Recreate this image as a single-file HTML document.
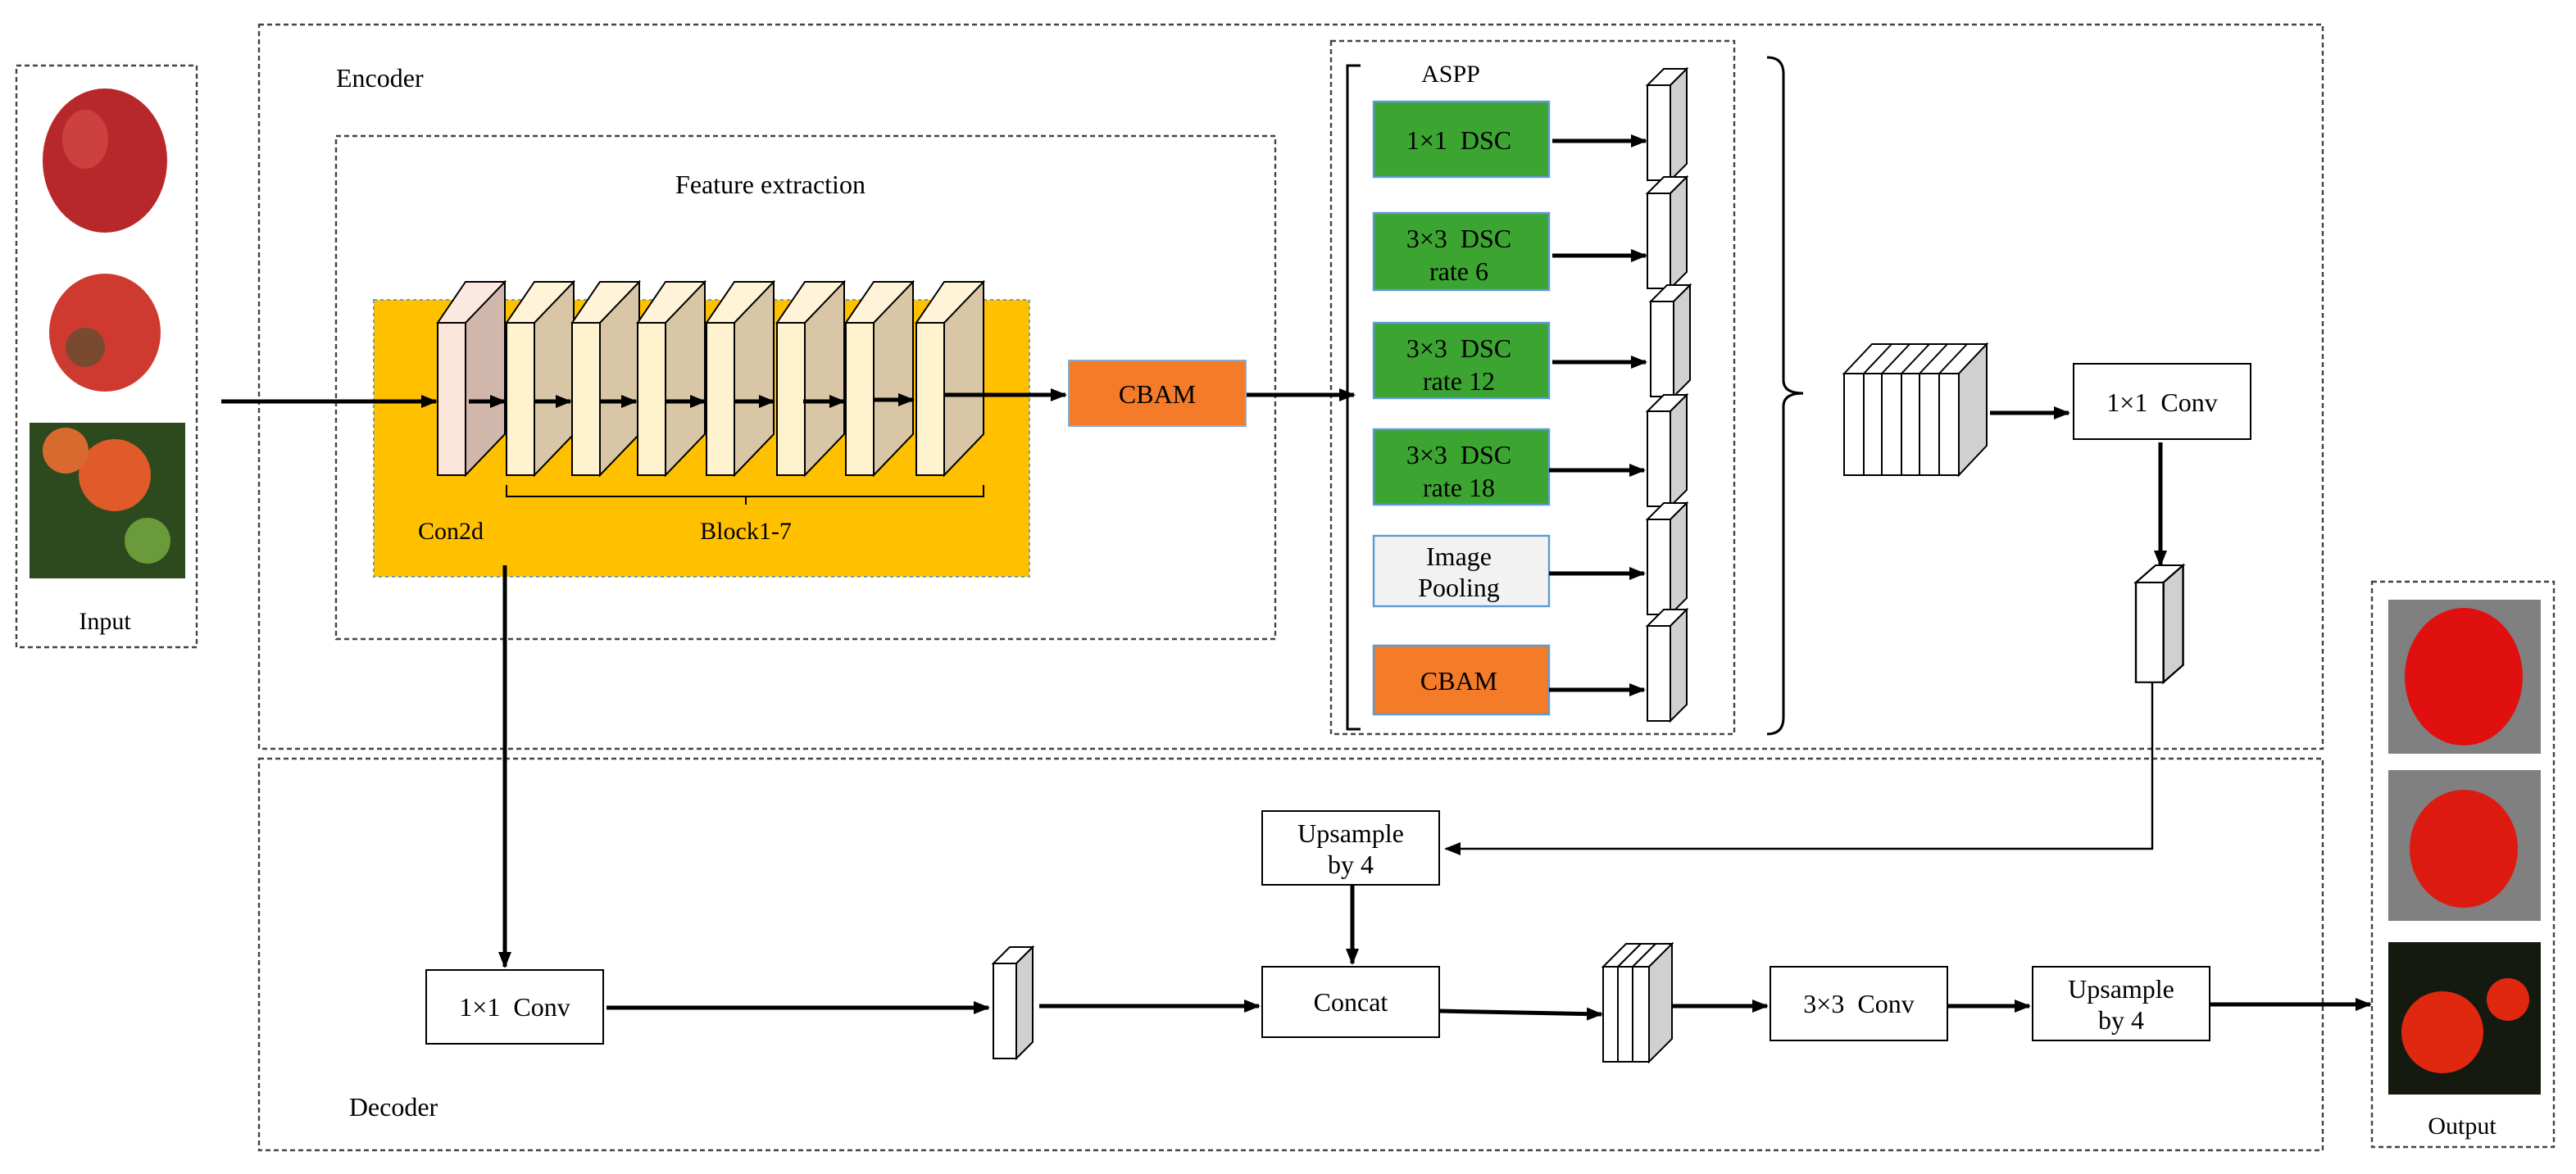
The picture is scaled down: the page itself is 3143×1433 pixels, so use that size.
<!DOCTYPE html>
<html><head><meta charset="utf-8"><style>html,body{margin:0;padding:0;background:#fff}svg{display:block}</style></head><body>
<svg width="3143" height="1433" viewBox="0 0 1571.5 716.5" xmlns="http://www.w3.org/2000/svg" font-family="Liberation Serif, serif">
<defs>
<marker id="a" markerWidth="10" markerHeight="8" refX="9" refY="4" orient="auto" markerUnits="userSpaceOnUse"><path d="M0,0 L10,4 L0,8 z" fill="#000"/></marker>
<g id="fm"><polygon points="0,10 10,0 24,0 14,10" fill="#fff" stroke="#000" stroke-width="1"/><polygon points="14,10 24,0 24,58 14,68" fill="#d0d0d0" stroke="#000" stroke-width="1"/><rect x="0" y="10" width="14" height="58" fill="#fff" stroke="#000" stroke-width="1"/></g>
</defs>
<rect width="1571.5" height="716.5" fill="#fff"/>
<g fill="none" stroke="#444" stroke-width="1.2" stroke-dasharray="3,2">
<rect x="10" y="40" width="110" height="355"/>
<rect x="158" y="15" width="1259" height="442"/>
<rect x="205" y="83" width="573" height="307"/>
<rect x="812" y="25" width="246" height="423"/>
<rect x="158" y="463" width="1259" height="239"/>
<rect x="1447" y="355" width="111" height="345"/>
</g>
<rect x="22" y="50" width="85" height="95" fill="#fff"/>
<ellipse cx="64" cy="98" rx="38" ry="44" fill="#b8282a"/><ellipse cx="52" cy="85" rx="14" ry="18" fill="#d85050" opacity="0.6"/>
<ellipse cx="64" cy="203" rx="34" ry="36" fill="#cf3a30"/><ellipse cx="52" cy="212" rx="12" ry="12" fill="#7a4a30"/>
<rect x="18" y="258" width="95" height="95" fill="#2c4a1e"/><circle cx="70" cy="290" r="22" fill="#e05a2a"/><circle cx="40" cy="275" r="14" fill="#d86a30"/><circle cx="90" cy="330" r="14" fill="#6a9a3a"/>
<text x="64" y="384" font-size="15" text-anchor="middle">Input</text>
<text x="205" y="53" font-size="16">Encoder</text>
<text x="470" y="118" font-size="16" text-anchor="middle">Feature extraction</text>
<rect x="228" y="183" width="400" height="169" fill="#ffc000" stroke="#6a9fc0" stroke-width="1" stroke-dasharray="2,2"/>
<text x="430" y="209" font-size="15" text-anchor="middle">MobileNet</text>
<g stroke="#000" stroke-width="1">
<polygon points="267,197 284,172 308,172 291,197" fill="#fbe9e0"/><polygon points="284,197 308,172 308,265 284,290" fill="#d1b6ab"/><rect x="267" y="197" width="17" height="93" fill="#fbe4da"/>
</g>
<g stroke="#000" stroke-width="1" id="bl">
<polygon points="309,197 326,172 350,172 333,197" fill="#fff3d8"/><polygon points="326,197 350,172 350,265 326,290" fill="#d8c6a6"/><rect x="309" y="197" width="17" height="93" fill="#fff2cf"/>
</g>
<use href="#bl" x="40"/><use href="#bl" x="80"/><use href="#bl" x="122"/><use href="#bl" x="165"/><use href="#bl" x="207"/><use href="#bl" x="250"/>
<g stroke="#000" stroke-width="2.5" marker-end="url(#a)">
<line x1="135" y1="245" x2="266" y2="245"/>
<line x1="286" y1="245" x2="308" y2="245"/><line x1="326" y1="245" x2="348" y2="245"/><line x1="366" y1="245" x2="388" y2="245"/><line x1="406" y1="245" x2="430" y2="245"/><line x1="448" y1="245" x2="472" y2="245"/><line x1="490" y1="245" x2="515" y2="245"/><line x1="533" y1="244" x2="557" y2="244"/>
<line x1="576" y1="241" x2="650" y2="241"/>
<line x1="760" y1="241" x2="826" y2="241"/>
</g>
<path d="M309,296 V303 H600 V296 M455,303 V308" fill="none" stroke="#000" stroke-width="1"/>
<text x="275" y="329" font-size="15" text-anchor="middle">Con2d</text>
<text x="455" y="329" font-size="15" text-anchor="middle">Block1-7</text>
<rect x="652" y="220" width="108" height="40" fill="#f47b28" stroke="#8aaad0" stroke-width="1"/>
<text x="706" y="246" font-size="16" text-anchor="middle">CBAM</text>
<path d="M830,40 H822 V445 H830" fill="none" stroke="#000" stroke-width="1.5"/>
<text x="885" y="50" font-size="15" text-anchor="middle">ASPP</text>
<g stroke="#5b9bd5" stroke-width="1.2">
<rect x="838" y="62" width="107" height="46" fill="#3ca532"/>
<rect x="838" y="130" width="107" height="47" fill="#3ca532"/>
<rect x="838" y="197" width="107" height="46" fill="#3ca532"/>
<rect x="838" y="262" width="107" height="46" fill="#3ca532"/>
<rect x="838" y="327" width="107" height="43" fill="#f2f2f2"/>
<rect x="838" y="394" width="107" height="42" fill="#f47b28"/>
</g>
<g font-size="16" text-anchor="middle">
<text x="890" y="91">1×1&#160;&#160;DSC</text>
<text x="890" y="151">3×3&#160;&#160;DSC</text><text x="890" y="171">rate 6</text>
<text x="890" y="218">3×3&#160;&#160;DSC</text><text x="890" y="238">rate 12</text>
<text x="890" y="283">3×3&#160;&#160;DSC</text><text x="890" y="303">rate 18</text>
<text x="890" y="345">Image</text><text x="890" y="364">Pooling</text>
<text x="890" y="421">CBAM</text>
</g>
<use href="#fm" x="1005" y="42"/><use href="#fm" x="1005" y="108"/><use href="#fm" x="1007" y="174"/><use href="#fm" x="1005" y="241"/><use href="#fm" x="1005" y="307"/><use href="#fm" x="1005" y="372"/>
<g stroke="#000" stroke-width="2.5" marker-end="url(#a)">
<line x1="947" y1="86" x2="1004" y2="86"/><line x1="947" y1="156" x2="1004" y2="156"/><line x1="947" y1="221" x2="1004" y2="221"/><line x1="945" y1="287" x2="1003" y2="287"/><line x1="945" y1="350" x2="1003" y2="350"/><line x1="945" y1="421" x2="1003" y2="421"/>
</g>
<path d="M1078,35 Q1088,35 1088,45 V232 Q1088,240 1100,240 Q1088,240 1088,248 V438 Q1088,448 1078,448" fill="none" stroke="#000" stroke-width="1.5"/>
<g stroke="#000" stroke-width="1">
<polygon points="1125,228 1142,210 1212,210 1195,228" fill="#fff"/>
<polygon points="1195,228 1212,210 1212,272 1195,290" fill="#d0d0d0"/>
<rect x="1125" y="228" width="70" height="62" fill="#fff"/>
<line x1="1137" y1="228" x2="1137" y2="290"/><line x1="1148" y1="228" x2="1148" y2="290"/><line x1="1160" y1="228" x2="1160" y2="290"/><line x1="1171" y1="228" x2="1171" y2="290"/><line x1="1183" y1="228" x2="1183" y2="290"/>
<line x1="1137" y1="228" x2="1154" y2="210"/><line x1="1148" y1="228" x2="1165" y2="210"/><line x1="1160" y1="228" x2="1177" y2="210"/><line x1="1171" y1="228" x2="1188" y2="210"/><line x1="1183" y1="228" x2="1200" y2="210"/>
</g>
<g stroke="#000" fill="#fff" stroke-width="1">
<rect x="1265" y="222" width="108" height="46"/>
<rect x="770" y="495" width="108" height="45"/>
<rect x="260" y="592" width="108" height="45"/>
<rect x="770" y="590" width="108" height="43"/>
<rect x="1080" y="590" width="108" height="45"/>
<rect x="1240" y="590" width="108" height="45"/>
</g>
<g font-size="16" text-anchor="middle">
<text x="1319" y="251">1×1&#160;&#160;Conv</text>
<text x="824" y="514">Upsample</text><text x="824" y="533">by 4</text>
<text x="314" y="620">1×1&#160;&#160;Conv</text>
<text x="824" y="617">Concat</text>
<text x="1134" y="618">3×3&#160;&#160;Conv</text>
<text x="1294" y="609">Upsample</text><text x="1294" y="628">by 4</text>
</g>
<g stroke="#000" stroke-width="2.5" marker-end="url(#a)">
<line x1="1214" y1="252" x2="1262" y2="252"/>
<line x1="1318" y1="270" x2="1318" y2="345"/>
<line x1="308" y1="345" x2="308" y2="590"/>
<line x1="370" y1="615" x2="603" y2="615"/>
<line x1="634" y1="614" x2="768" y2="614"/>
<line x1="825" y1="540" x2="825" y2="588"/>
<line x1="878" y1="617" x2="977" y2="619"/>
<line x1="1020" y1="614" x2="1078" y2="614"/>
<line x1="1188" y1="614" x2="1238" y2="614"/>
<line x1="1348" y1="613" x2="1446" y2="613"/>
</g>
<path d="M1313,413 V518 H882" fill="none" stroke="#000" stroke-width="1.2" marker-end="url(#a)"/>
<g transform="translate(1303,345) scale(1.2,1.05)"><use href="#fm"/></g>
<use href="#fm" x="606" y="578"/>
<g stroke="#000" stroke-width="1">
<polygon points="978,590 992,576 1020,576 1006,590" fill="#fff"/>
<polygon points="1006,590 1020,576 1020,634 1006,648" fill="#d0d0d0"/>
<rect x="978" y="590" width="28" height="58" fill="#fff"/>
<line x1="987" y1="590" x2="987" y2="648"/><line x1="996" y1="590" x2="996" y2="648"/>
<line x1="987" y1="590" x2="1001" y2="576"/><line x1="996" y1="590" x2="1010" y2="576"/>
</g>
<text x="240" y="681" font-size="16" text-anchor="middle">Decoder</text>
<rect x="1457" y="366" width="93" height="94" fill="#808080"/><ellipse cx="1503" cy="413" rx="36" ry="42" fill="#e01010"/>
<rect x="1457" y="470" width="93" height="92" fill="#808080"/><ellipse cx="1503" cy="518" rx="33" ry="36" fill="#dd1a10"/>
<rect x="1457" y="575" width="93" height="93" fill="#151a10"/><circle cx="1490" cy="630" r="25" fill="#e02810"/><circle cx="1530" cy="610" r="13" fill="#e02810"/>
<text x="1502" y="692" font-size="15" text-anchor="middle">Output</text>
</svg>
</body></html>
